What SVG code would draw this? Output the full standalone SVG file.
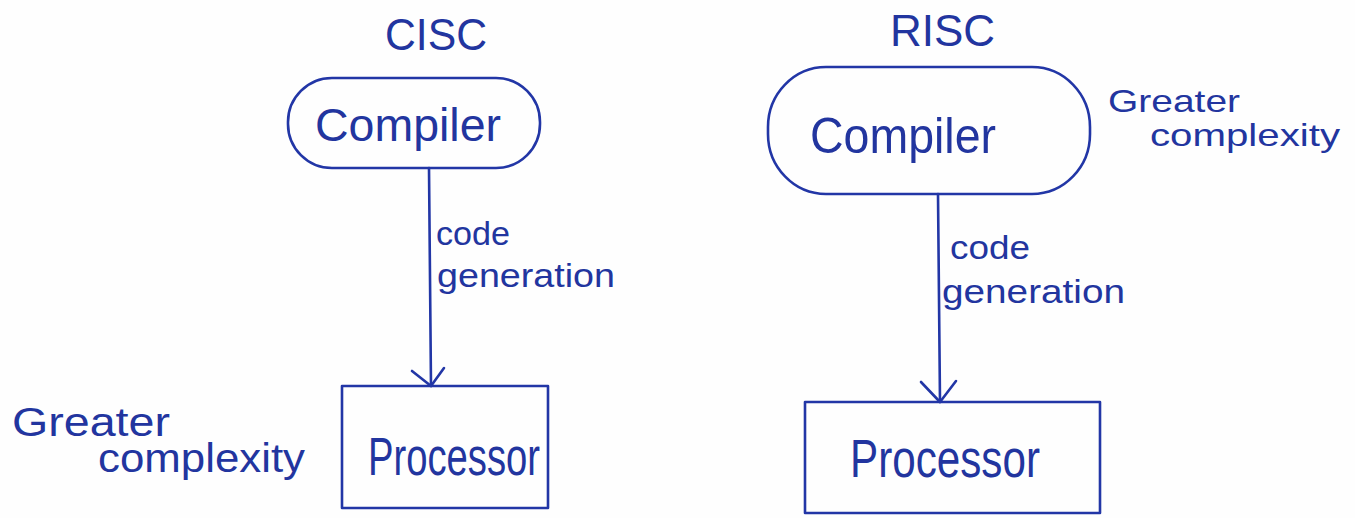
<svg xmlns="http://www.w3.org/2000/svg" width="1355" height="518" viewBox="0 0 1355 518">
  <style>
    .ink { fill: none; stroke: #2236a6; stroke-width: 2.6; stroke-linecap: round; stroke-linejoin: round; }
    .txt { fill: #22359f; font-family: "Liberation Sans", "DejaVu Sans", sans-serif; }
  </style>
  <rect width="1355" height="518" fill="#fefefe"/>

  <!-- Column headings -->
  <text id="cisc-title" class="txt" x="385" y="50" font-size="44" textLength="102" lengthAdjust="spacingAndGlyphs">CISC</text>
  <text id="risc-title" class="txt" x="890" y="46" font-size="44" textLength="105" lengthAdjust="spacingAndGlyphs">RISC</text>

  <!-- CISC side -->
  <g id="cisc-compiler">
    <rect class="ink" x="288" y="78" width="252" height="90" rx="44" ry="44"/>
    <text class="txt" x="315" y="141" font-size="46" textLength="186" lengthAdjust="spacingAndGlyphs">Compiler</text>
  </g>
  <g id="cisc-processor">
    <rect class="ink" x="342" y="386" width="206" height="122"/>
    <text class="txt" x="368" y="475" font-size="54" textLength="172" lengthAdjust="spacingAndGlyphs">Processor</text>
  </g>
  <g id="cisc-note">
    <text class="txt" x="12" y="436" font-size="40" textLength="158" lengthAdjust="spacingAndGlyphs">Greater</text>
    <text class="txt" x="98" y="472" font-size="40" textLength="207" lengthAdjust="spacingAndGlyphs">complexity</text>
  </g>

  <!-- RISC side -->
  <g id="risc-compiler">
    <rect class="ink" x="768" y="67" width="322" height="127" rx="58" ry="60"/>
    <text class="txt" x="810" y="153" font-size="50" textLength="186" lengthAdjust="spacingAndGlyphs">Compiler</text>
  </g>
  <g id="risc-processor">
    <rect class="ink" x="805" y="402" width="295" height="111"/>
    <text class="txt" x="850" y="477" font-size="54" textLength="190" lengthAdjust="spacingAndGlyphs">Processor</text>
  </g>
  <g id="risc-note">
    <text class="txt" x="1108" y="112" font-size="32" textLength="132" lengthAdjust="spacingAndGlyphs">Greater</text>
    <text class="txt" x="1150" y="146" font-size="32" textLength="190" lengthAdjust="spacingAndGlyphs">complexity</text>
  </g>

  <!-- Connectors -->
  <g id="connectors">
    <path class="ink" d="M429 168 L431 386"/>
    <path class="ink" d="M412 371 L431 386 L444 368"/>
    <text class="txt" x="436" y="245" font-size="34" textLength="74" lengthAdjust="spacingAndGlyphs">code</text>
    <text class="txt" x="437" y="287" font-size="34" textLength="178" lengthAdjust="spacingAndGlyphs">generation</text>

    <path class="ink" d="M938 194 L940 402"/>
    <path class="ink" d="M921 382 L940 402 L956 381"/>
    <text class="txt" x="950" y="259" font-size="34" textLength="80" lengthAdjust="spacingAndGlyphs">code</text>
    <text class="txt" x="942" y="303" font-size="34" textLength="183" lengthAdjust="spacingAndGlyphs">generation</text>
  </g>
</svg>
